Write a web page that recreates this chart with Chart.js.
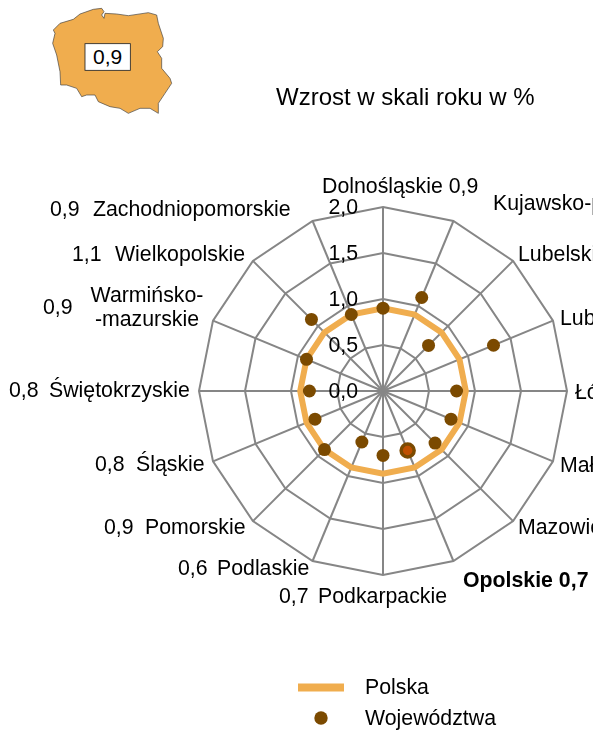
<!DOCTYPE html>
<html lang="pl">
<head>
<meta charset="utf-8">
<title>Wzrost w skali roku w %</title>
<script src="https://cdn.jsdelivr.net/npm/chart.js@4/dist/chart.umd.min.js"></script>
<style>
html,body{margin:0;padding:0;background:#fff;overflow:hidden}
#wrap{position:relative;width:593px;height:731px;overflow:hidden}
#c{position:absolute;left:0;top:0}
#map{position:absolute;left:30px;top:0;width:160px;height:120px}
</style>
</head>
<body>
<div id="wrap">
<canvas id="c" width="593" height="731"></canvas>
<svg id="map" viewBox="0 0 480 360">
<path fill="#F0AD4E" stroke="#404040" stroke-width="2" stroke-linejoin="round" d="M70 90 L90 70 L130 58 L150 42 L190 28 L215 25 L222 35 L215 45 L222 55 L225 40 L260 42 L295 47 L355 38 L380 45 L385 70 L400 115 L398 140 L382 155 L395 175 L395 205 L420 235 L425 250 L405 280 L385 310 L385 340 L360 325 L330 325 L295 340 L270 325 L240 320 L205 305 L195 285 L170 285 L155 290 L140 265 L110 255 L92 255 L90 215 L80 165 L68 130 L75 100 Z"/>
<rect x="165" y="131" width="136" height="80" fill="#fff" stroke="#222" stroke-width="2.5"/>
<text x="233" y="193" text-anchor="middle" font-family="Liberation Sans" font-size="63" fill="#000">0,9</text>
</svg>
</div>
<script>
const categories = ["Dolnośląskie","Kujawsko-pomorskie","Lubelskie","Lubuskie","Łódzkie","Małopolskie","Mazowieckie","Opolskie","Podkarpackie","Podlaskie","Pomorskie","Śląskie","Świętokrzyskie","Warmińsko-\n-mazurskie","Wielkopolskie","Zachodniopomorskie"];
const polska = [0.9,0.9,0.9,0.9,0.9,0.9,0.9,0.9,0.9,0.9,0.9,0.9,0.9,0.9,0.9,0.9];
const wojewodztwa = [0.9,1.1,0.7,1.3,0.8,0.8,0.8,0.7,0.7,0.6,0.9,0.8,0.8,0.9,1.1,0.9];
const titleText = "Wzrost w skali roku w %";
const highlighted = "Opolskie";

// Label placement, separate from the data: name x, value x (when apart from the name), middle y
const labelPlaces = [
 {x:322,y:186},{x:493,y:203},{x:518,y:254},{x:560,y:318},{x:575,y:392},{x:560,y:465},{x:518,y:527},{x:463,y:580},
 {x:318,vx:279,y:596},{x:217,vx:178,y:568},{x:145,vx:104,y:527},{x:136,vx:95,y:464},{x:49,vx:9,y:390},
 {x:147,vx:43,y:307,multi:true},{x:115,vx:72,y:254},{x:93,vx:50,y:209}
];
const FONT = '"Liberation Sans", Arial, sans-serif';
const fmt = v => v.toFixed(1).replace('.', ',');
const ORANGE = '#F0AD4E', BROWN = '#7B4A00', GRID = '#868686';
const TEXT_DY = 1;

const overlay = {
  id:'overlay',
  afterDraw(chart){
    const ctx = chart.ctx, r = chart.scales.r;
    ctx.save();
    ctx.fillStyle = '#000';
    ctx.textBaseline = 'middle';
    ctx.font = `24px ${FONT}`;
    ctx.textAlign = 'left';
    ctx.fillText(titleText, 276, 97 + TEXT_DY);
    ctx.font = `21.3px ${FONT}`;
    ctx.textAlign = 'right';
    r.ticks.forEach(t => ctx.fillText(t.label, 358, r.yCenter - r.getDistanceFromCenterForValue(t.value) + TEXT_DY));
    categories.forEach((name,i) => {
      const p = labelPlaces[i], val = fmt(wojewodztwa[i]), y = p.y + TEXT_DY;
      const bold = name === highlighted;
      ctx.font = `${bold?'bold ':''}21.3px ${FONT}`;
      if (p.vx === undefined) {
        ctx.textAlign = 'left';
        ctx.fillText(name + ' ' + val, p.x, y);
      } else if (p.multi) {
        ctx.textAlign = 'center';
        name.split('\n').forEach((ln,k) => ctx.fillText(ln, p.x, y - 12 + k*24));
        ctx.textAlign = 'left';
        ctx.fillText(val, p.vx, y);
      } else {
        ctx.textAlign = 'left';
        ctx.fillText(name, p.x, y);
        ctx.fillText(val, p.vx, y);
      }
    });
    ctx.textAlign = 'left';
    ctx.font = `21.3px ${FONT}`;
    const ds = chart.data.datasets;
    ctx.fillText(ds[0].label, 365, 687 + TEXT_DY);
    ctx.fillText(ds[1].label, 365, 718 + TEXT_DY);
    ctx.strokeStyle = ORANGE; ctx.lineWidth = 8;
    ctx.beginPath(); ctx.moveTo(298,687.5); ctx.lineTo(344,687.5); ctx.stroke();
    ctx.fillStyle = BROWN;
    ctx.beginPath(); ctx.arc(321,718,6.7,0,Math.PI*2); ctx.fill();
    ctx.restore();
  }
};

new Chart(document.getElementById('c'), {
  type:'radar',
  data:{
    labels:categories,
    datasets:[
      {label:'Polska',data:polska,borderColor:ORANGE,borderWidth:6,fill:false,pointRadius:0,pointHoverRadius:0,tension:0,order:2,borderJoinStyle:'miter'},
      {label:'Województwa',data:wojewodztwa,showLine:false,fill:false,order:1,
       pointRadius:6.5,
       pointBackgroundColor:categories.map(c=>c===highlighted?'#C05000':BROWN),
       pointBorderColor:BROWN,
       pointBorderWidth:categories.map(c=>c===highlighted?3.5:0)}
    ]
  },
  options:{
    responsive:false,
    animation:false,
    layout:{padding:{left:199,right:26,top:207,bottom:156}},
    plugins:{legend:{display:false},title:{display:false},tooltip:{enabled:false}},
    scales:{r:{
      min:0,max:2,
      ticks:{stepSize:0.5,display:false,callback:v=>fmt(v)},
      pointLabels:{display:false},
      grid:{color:GRID,lineWidth:2,circular:false},
      angleLines:{color:GRID,lineWidth:2}
    }}
  },
  plugins:[overlay]
});
</script>
</body>
</html>
